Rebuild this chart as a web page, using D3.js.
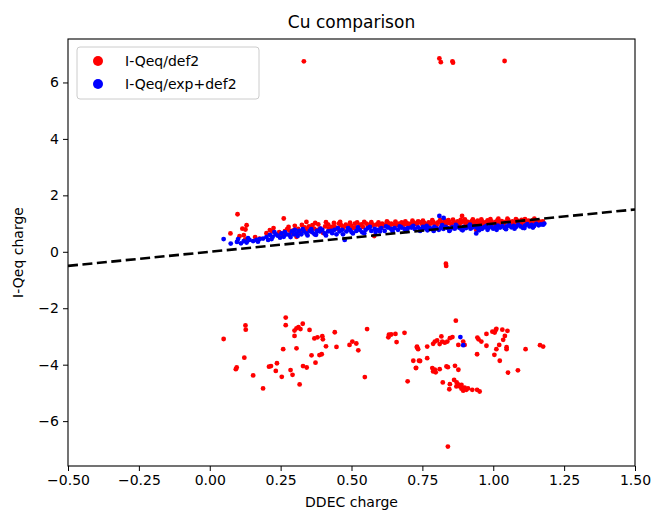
<!DOCTYPE html>
<html>
<head>
<meta charset="utf-8">
<script src="https://cdn.jsdelivr.net/npm/d3@7"></script>
<style>
  body { margin: 0; background: #fff; }
  svg text { font-family: "DejaVu Sans", sans-serif; fill: #000; }
</style>
</head>
<body>
<div id="chart"></div>
<script>
// series names
var seriesNames = ['I-Qeq/def2', 'I-Qeq/exp+def2'];
var seriesColors = ['#ff0000', '#0000ff'];

// tick labels
var xTicks = [-0.5, -0.25, 0, 0.25, 0.5, 0.75, 1.0, 1.25, 1.5];
var yTicks = [-6, -4, -2, 0, 2, 4, 6];

// I-Qeq/def2 : [DDEC, I-Qeq] pairs
var redBand = [
  [0.073,0.65],[0.098,1.33],[0.12,0.59],[0.13,0.94],[0.126,0.79],[0.125,0.44],[0.176,0.47],
  [0.212,0.77],[0.22,0.72],[0.265,0.73],[0.273,0.8],[0.282,0.75],[0.261,1.18],[0.306,0.53],
  [0.312,0.81],[0.33,0.8],[0.335,0.86],[0.341,1.06],[0.345,0.78],[0.357,0.72],[0.362,0.94],
  [0.368,0.82],[0.383,0.97],[0.39,0.82],[0.4,0.67],[0.407,0.9],[0.418,0.96],[0.42,0.82],
  [0.43,0.88],[0.45,0.82],[0.455,1.0],[0.463,0.94],[0.47,0.82],[0.48,0.96],[0.488,0.9],
  [0.512,1.0],[0.515,0.86],[0.528,0.94],[0.552,1.0],[0.563,0.96],[0.575,0.94],[0.58,0.56],
  [0.587,0.96],[0.608,1.0],[0.616,0.96],[0.628,1.03],[0.64,1.0],[0.65,0.96],[0.668,1.0],
  [0.677,1.04],[0.685,0.96],[0.697,1.01],[0.709,1.0],[0.72,1.03],[0.73,0.98],[0.74,1.05],
  [0.748,0.99],[0.757,1.02],[0.765,0.97],[0.772,1.04],[0.78,1.0],[0.788,1.06],[0.795,0.98],
  [0.803,1.03],[0.81,1.07],[0.817,0.99],[0.824,1.04],[0.83,1.1],[0.837,1.0],[0.845,1.05],
  [0.852,0.98],[0.86,1.06],[0.867,1.02],[0.874,1.08],[0.88,0.99],[0.887,1.04],[0.89,1.27],
  [0.895,1.1],[0.902,1.0],[0.91,1.06],[0.917,1.02],[0.924,1.08],[0.93,0.99],[0.937,1.05],
  [0.94,0.77],[0.945,1.1],[0.952,1.02],[0.96,1.07],[0.967,1.0],[0.974,1.05],[0.98,1.11],
  [0.987,1.03],[0.994,1.08],[1.0,1.0],[1.008,1.06],[1.015,1.12],[1.022,1.04],[1.03,1.09],
  [1.038,1.02],[1.045,1.07],[1.053,1.13],[1.06,1.04],[1.068,1.08],[1.076,1.02],[1.085,1.1],
  [1.093,1.05],[1.1,1.13],[1.108,1.07],[1.116,1.02],[1.124,1.1],[1.132,1.06],[1.14,1.12],
  [1.148,1.05],[1.156,1.09],[1.165,1.07],[1.172,1.04],[0.24,0.6],[0.29,0.68],[0.38,0.78],
  [0.44,0.9],[0.5,0.92],[0.54,0.88],[0.6,0.92],[0.66,0.94],[0.7,0.95],[0.76,0.94],[0.82,0.95],
  [0.88,0.96],[0.92,0.97],[0.96,0.98],[1.02,0.99],[1.07,1.0],[1.12,1.02],
  [0.105,0.55],[0.115,0.82],[0.16,0.52],[0.2,0.66],[0.225,0.84],[0.245,0.7],[0.255,0.58],
  [0.278,0.88],[0.295,0.76],[0.3,0.92],[0.318,0.7],[0.325,0.95],[0.35,0.9],[0.372,1.02],
  [0.392,0.74],[0.41,1.05],[0.425,0.76],[0.438,1.02],[0.46,1.06],[0.475,0.9],[0.495,1.03],
  [0.505,0.84],[0.52,1.04],[0.535,0.97],[0.545,1.06],[0.558,0.9],[0.57,1.05],[0.595,1.04],
  [0.61,0.9],[0.625,1.08],[0.635,0.93],[0.655,1.07],[0.672,0.92],[0.69,1.08],[0.705,0.93],
  [0.715,1.1],[0.735,1.08],[0.752,1.1],[0.77,0.93],[0.785,1.12],[0.8,0.94],[0.813,1.13],
  [0.828,0.96],[0.842,1.12],[0.858,1.14],[0.872,0.95],[0.885,1.13],[0.9,1.15],[0.915,0.94],
  [0.928,1.15],[0.948,0.95],[0.958,1.15],[0.975,0.96],[0.99,1.16],[1.005,0.96],[1.018,1.17],
  [1.035,0.98],[1.05,1.17],[1.065,0.99],[1.08,1.16],[1.098,0.98],[1.112,1.16],[1.128,0.99],
  [1.145,1.17],[1.16,1.0],[1.175,1.08]
];
var redOutliers = [
  [0.332,6.75],[0.81,6.85],[0.815,6.72],[0.856,6.75],[0.858,6.7],[1.04,6.76],
  [0.833,-0.42],[0.834,-0.5],[0.84,-6.9]
];
var redNeg = [
  [0.049,-3.09],[0.092,-4.16],[0.095,-4.1],[0.126,-2.61],[0.127,-2.76],[0.122,-3.75],
  [0.153,-4.38],[0.188,-4.84],[0.209,-4.07],[0.216,-4.05],[0.233,-4.22],[0.237,-3.95],
  [0.254,-4.43],[0.259,-3.45],[0.268,-2.33],[0.268,-2.6],[0.285,-4.19],[0.292,-4.36],
  [0.299,-2.79],[0.299,-2.98],[0.306,-2.71],[0.306,-3.42],[0.313,-2.67],[0.32,-2.74],
  [0.317,-4.7],[0.328,-2.55],[0.329,-4.05],[0.342,-4.1],[0.352,-2.77],[0.359,-3.67],
  [0.369,-3.07],[0.373,-3.93],[0.38,-3.03],[0.387,-3.66],[0.395,-3.63],[0.397,-2.99],
  [0.399,-3.1],[0.41,-3.35],[0.441,-2.85],[0.447,-3.37],[0.493,-3.3],[0.503,-3.18],
  [0.517,-3.25],[0.524,-3.49],[0.547,-4.44],[0.555,-2.74],[0.63,-3.03],[0.632,-2.94],
  [0.64,-2.93],[0.655,-2.91],[0.659,-3.2],[0.687,-2.87],[0.698,-4.59],[0.718,-3.86],
  [0.727,-4.12],[0.731,-3.39],[0.738,-3.86],[0.735,-3.45],[0.868,-2.44],[0.731,-3.36],
  [0.767,-3.36],[0.742,-3.87],[0.767,-3.77],[0.728,-4.11],[0.788,-3.26],[0.794,-3.18],
  [0.802,-3.14],[0.811,-3.27],[0.817,-3.0],[0.82,-3.18],[0.829,-3.22],[0.838,-3.18],
  [0.847,-3.06],[0.856,-3.02],[0.877,-3.3],[0.899,-3.3],[0.894,-3.18],[0.944,-3.04],
  [0.948,-3.1],[0.958,-3.18],[0.943,-3.63],[0.976,-2.91],[0.976,-3.33],[0.997,-2.83],
  [1.009,-2.77],[1.005,-2.86],[1.011,-2.73],[1.032,-2.76],[1.05,-2.8],[1.041,-2.98],
  [1.035,-3.12],[1.021,-3.3],[1.011,-3.45],[1.047,-3.38],[1.047,-3.45],[1.004,-3.65],
  [1.023,-3.86],[1.052,-4.28],[1.087,-4.2],[1.114,-3.45],[1.165,-3.31],[1.176,-3.36],
  [0.785,-4.12],[0.788,-4.24],[0.794,-4.18],[0.797,-4.27],[0.811,-4.16],[0.835,-4.06],
  [0.84,-4.09],[0.865,-4.04],[0.877,-4.18],[0.822,-4.63],[0.847,-4.69],[0.845,-4.87],
  [0.862,-4.54],[0.871,-4.63],[0.876,-4.7],[0.882,-4.77],[0.888,-4.85],[0.894,-4.92],
  [0.899,-4.81],[0.905,-4.89],[0.911,-4.84],[0.926,-4.89],[0.943,-4.89],[0.952,-4.95],
  [0.888,-4.72],[0.87,-4.77]
];

// I-Qeq/exp+def2 : [DDEC, I-Qeq] pairs
var blueBand = [
  [0.049,0.45],[0.074,0.29],[0.096,0.35],[0.1,0.45],[0.12,0.38],[0.13,0.33],[0.14,0.42],
  [0.153,0.38],[0.165,0.42],[0.176,0.45],[0.188,0.47],[0.206,0.42],[0.212,0.6],[0.222,0.53],
  [0.233,0.62],[0.24,0.57],[0.253,0.65],[0.261,0.53],[0.27,0.62],[0.28,0.6],[0.29,0.72],
  [0.297,0.62],[0.306,0.65],[0.315,0.74],[0.323,0.62],[0.332,0.72],[0.341,0.65],[0.353,0.74],
  [0.362,0.69],[0.37,0.62],[0.378,0.74],[0.388,0.72],[0.397,0.78],[0.405,0.65],[0.417,0.72],
  [0.428,0.74],[0.44,0.78],[0.447,0.62],[0.458,0.72],[0.467,0.78],[0.476,0.42],[0.482,0.72],
  [0.494,0.78],[0.505,0.65],[0.517,0.74],[0.529,0.78],[0.538,0.69],[0.55,0.78],[0.558,0.84],
  [0.57,0.74],[0.582,0.81],[0.594,0.78],[0.605,0.84],[0.617,0.74],[0.629,0.86],[0.64,0.81],
  [0.652,0.84],[0.664,0.78],[0.676,0.86],[0.687,0.81],[0.699,0.84],[0.711,0.86],[0.723,0.81],
  [0.735,0.86],[0.745,0.8],[0.752,0.88],[0.76,0.83],[0.768,0.76],[0.776,0.85],[0.784,0.8],
  [0.792,0.88],[0.8,0.83],[0.81,1.27],[0.808,0.78],[0.816,0.86],[0.825,1.2],[0.824,0.81],
  [0.832,0.88],[0.84,0.84],[0.848,0.78],[0.856,0.87],[0.864,0.82],[0.872,0.9],[0.88,0.85],
  [0.888,0.79],[0.896,0.88],[0.904,0.84],[0.912,0.9],[0.92,0.82],[0.928,0.87],[0.936,0.91],
  [0.94,0.65],[0.944,0.84],[0.952,0.89],[0.96,0.81],[0.968,0.87],[0.976,0.92],[0.984,0.85],
  [0.992,0.9],[1.0,0.82],[1.008,0.88],[1.016,0.93],[1.024,0.86],[1.032,0.91],[1.04,0.84],
  [1.048,0.9],[1.056,0.95],[1.064,0.87],[1.072,0.92],[1.08,0.88],[1.088,0.96],[1.096,0.9],
  [1.104,0.85],[1.112,0.93],[1.12,0.98],[1.128,0.9],[1.136,0.95],[1.144,0.91],[1.152,0.99],
  [1.16,0.94],[1.168,0.97],[1.176,0.96],[1.18,1.0],
  [0.11,0.3],[0.135,0.48],[0.17,0.36],[0.2,0.52],[0.218,0.45],[0.228,0.7],[0.248,0.5],
  [0.265,0.7],[0.285,0.52],[0.3,0.78],[0.31,0.56],[0.328,0.8],[0.345,0.58],[0.358,0.8],
  [0.375,0.6],[0.39,0.82],[0.41,0.58],[0.432,0.66],[0.452,0.84],[0.47,0.62],[0.488,0.84],
  [0.5,0.7],[0.523,0.86],[0.545,0.66],[0.565,0.88],[0.585,0.7],[0.6,0.72],[0.622,0.9],
  [0.645,0.72],[0.67,0.9],[0.695,0.74],[0.718,0.92],[0.742,0.74],[0.765,0.92],[0.79,0.74],
  [0.82,0.94],[0.845,0.74],[0.868,0.95],[0.892,0.76],[0.918,0.96],[0.95,0.76],[0.98,0.78],
  [1.012,0.78],[1.045,0.8],[1.075,0.82],[1.11,0.84],[1.14,0.86]
];
var blueNeg = [[0.884,-3.02],[0.894,-3.31]];

var width = 654, height = 510;
var margin = { top: 39, right: 19, bottom: 44, left: 68 };
var plotW = width - margin.left - margin.right;
var plotH = height - margin.top - margin.bottom;

var svg = d3.select('#chart').append('svg')
  .attr('width', width)
  .attr('height', height);

var xScale = d3.scaleLinear().domain([-0.5, 1.5]).range([margin.left, margin.left + plotW]);
var yScale = d3.scaleLinear().domain([-7.59, 7.54]).range([margin.top + plotH, margin.top]);

svg.append('clipPath').attr('id', 'clip')
  .append('rect')
  .attr('x', margin.left).attr('y', margin.top)
  .attr('width', plotW).attr('height', plotH);

var plot = svg.append('g').attr('clip-path', 'url(#clip)');

// red series then blue series on top
var redAll = redBand.concat(redOutliers, redNeg);
var blueAll = blueBand.concat(blueNeg);

plot.selectAll('circle.red').data(redAll)
  .enter().append('circle')
  .attr('class', 'red')
  .attr('cx', function(d) { return xScale(d[0]); })
  .attr('cy', function(d) { return yScale(d[1]); })
  .attr('r', 2.4)
  .attr('fill', seriesColors[0]);

plot.selectAll('circle.blue').data(blueAll)
  .enter().append('circle')
  .attr('class', 'blue')
  .attr('cx', function(d) { return xScale(d[0]); })
  .attr('cy', function(d) { return yScale(d[1]); })
  .attr('r', 2.4)
  .attr('fill', seriesColors[1]);

// y = x reference line
plot.append('line')
  .attr('x1', xScale(-0.5)).attr('y1', yScale(-0.5))
  .attr('x2', xScale(1.5)).attr('y2', yScale(1.5))
  .attr('stroke', '#000')
  .attr('stroke-width', 2.6)
  .attr('stroke-dasharray', '10,4.5');

// axes
var xAxis = d3.axisBottom(xScale).tickValues(xTicks).tickFormat(d3.format('.2f'))
  .tickSize(5).tickPadding(4);
var yAxis = d3.axisLeft(yScale).tickValues(yTicks).tickFormat(d3.format('d'))
  .tickSize(5).tickPadding(4);

var gx = svg.append('g')
  .attr('transform', 'translate(0,' + (margin.top + plotH) + ')')
  .call(xAxis);
var gy = svg.append('g')
  .attr('transform', 'translate(' + margin.left + ',0)')
  .call(yAxis);

[gx, gy].forEach(function(g) {
  g.select('.domain').remove();
  g.selectAll('line').attr('stroke', '#000').attr('stroke-width', 1);
  g.selectAll('text').style('font-size', '14px').style('font-family', '"DejaVu Sans", sans-serif');
});

// frame
svg.append('rect')
  .attr('x', margin.left).attr('y', margin.top)
  .attr('width', plotW).attr('height', plotH)
  .attr('fill', 'none')
  .attr('stroke', '#000')
  .attr('stroke-width', 1.1);

// title and labels
svg.append('text')
  .attr('x', margin.left + plotW / 2)
  .attr('y', 28)
  .attr('text-anchor', 'middle')
  .style('font-size', '17px')
  .text('Cu comparison');

svg.append('text')
  .attr('x', margin.left + plotW / 2)
  .attr('y', 507)
  .attr('text-anchor', 'middle')
  .style('font-size', '14px')
  .text('DDEC charge');

svg.append('text')
  .attr('transform', 'translate(23,' + (margin.top + plotH / 2) + ') rotate(-90)')
  .attr('text-anchor', 'middle')
  .style('font-size', '14px')
  .text('I-Qeq charge');

// legend
var legend = svg.append('g').attr('transform', 'translate(77,47)');
legend.append('rect')
  .attr('width', 182).attr('height', 52)
  .attr('rx', 3)
  .attr('fill', '#fff')
  .attr('fill-opacity', 0.8)
  .attr('stroke', '#cccccc');

seriesNames.forEach(function(name, i) {
  legend.append('circle')
    .attr('cx', 21).attr('cy', 14 + i * 23)
    .attr('r', 5)
    .attr('fill', seriesColors[i]);
  legend.append('text')
    .attr('x', 48).attr('y', 19 + i * 23)
    .style('font-size', '14px')
    .text(name);
});
</script>
</body>
</html>
